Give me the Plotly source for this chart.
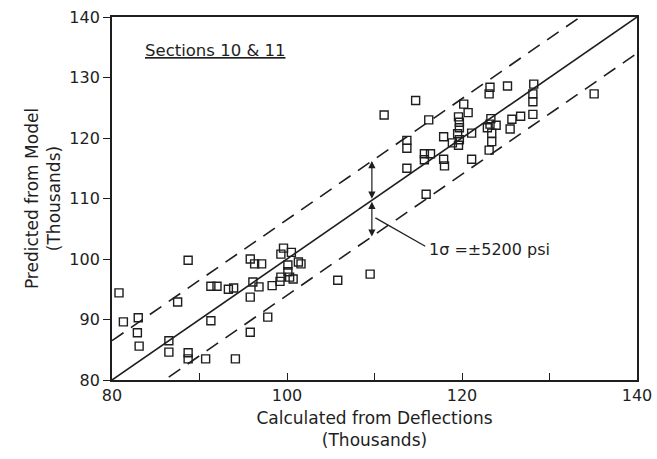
import plotly.graph_objects as go

# ---- data ----
calc_x = [80.8, 81.3, 83.0, 82.9, 83.1, 86.5, 86.5, 88.7, 87.5, 88.7, 88.7, 90.7,
          91.3, 92.0, 91.3, 93.3, 93.9, 94.1, 95.8, 96.3, 97.1, 96.1, 96.8, 98.3,
          95.8, 97.8, 95.8, 99.3, 99.6, 100.5, 100.1, 101.3, 101.6, 100.1, 100.3,
          100.7, 99.3, 99.2, 105.8, 109.5, 111.1, 114.7, 116.2, 113.7, 113.7,
          115.7, 116.4, 115.7, 113.7, 115.9, 117.9, 118.9, 119.6, 119.7, 119.7,
          119.5, 119.7, 119.6, 120.2, 120.7, 121.1, 121.1, 117.9, 118.0, 123.2,
          123.1, 125.2, 123.3, 122.9, 123.2, 123.9, 123.4, 123.4, 123.1, 125.7,
          126.7, 128.1, 125.5, 128.2, 128.1, 128.1, 135.1]
pred_y = [94.4, 89.6, 90.3, 87.8, 85.6, 86.5, 84.6, 99.8, 92.9, 84.5, 83.5, 83.5,
          95.5, 95.5, 89.8, 95.0, 95.2, 83.5, 100.0, 99.2, 99.2, 96.2, 95.4, 95.6,
          93.7, 90.4, 87.9, 100.8, 101.8, 101.1, 99.0, 99.5, 99.2, 97.9, 97.0,
          96.7, 97.0, 96.3, 96.5, 97.5, 123.8, 126.2, 123.0, 119.6, 118.3,
          117.4, 117.4, 116.4, 115.0, 110.7, 120.2, 119.2, 123.5, 122.6, 121.7,
          120.7, 119.7, 118.8, 125.6, 124.2, 120.8, 116.5, 116.5, 115.4, 128.4,
          127.3, 128.6, 123.2, 121.7, 122.3, 122.1, 120.8, 119.4, 118.0, 123.1,
          123.6, 123.9, 121.5, 128.9, 127.3, 126.0, 127.3]

line_x = [80, 140]          # equality line y = x
band_upper = 6.5            # offset of upper dashed line (as drawn)
band_lower = 6.0            # offset of lower dashed line (as drawn)
sigma_x = 109.7             # where the 1-sigma arrows are drawn
x_ticks = [80, 90, 100, 110, 120, 130, 140]
x_ticktext = ["80", "", "100", "", "120", "", "140"]
y_ticks = [80, 90, 100, 110, 120, 130, 140]
label_text = "1\u03c3 =\u00b15200 psi"
section_text = "Sections 10 & 11"

FONT = "DejaVu Sans, Liberation Sans, Arial, sans-serif"
INK = "#1e1e1e"

fig = go.Figure()

fig.add_trace(go.Scatter(x=line_x, y=line_x, mode="lines",
                         line=dict(color=INK, width=1.6), hoverinfo="skip"))
fig.add_trace(go.Scatter(x=line_x, y=[v + band_upper for v in line_x], mode="lines",
                         line=dict(color=INK, width=1.6, dash="14px,9px"), hoverinfo="skip"))
fig.add_trace(go.Scatter(x=line_x, y=[v - band_lower for v in line_x], mode="lines",
                         line=dict(color=INK, width=1.6, dash="14px,9px"), hoverinfo="skip"))

fig.add_trace(go.Scatter(x=calc_x, y=pred_y, mode="markers",
                         marker=dict(symbol="square-open", size=8, color=INK,
                                     line=dict(width=1.4, color=INK))))

fig.add_annotation(x=sigma_x, y=sigma_x + band_upper, ax=sigma_x, ay=sigma_x,
                   xref="x", yref="y", axref="x", ayref="y", text="",
                   showarrow=True, arrowhead=2, startarrowhead=2, arrowside="end+start",
                   arrowsize=1.2, startarrowsize=1.2, arrowwidth=1.2, arrowcolor=INK)
fig.add_annotation(x=sigma_x, y=sigma_x - band_lower, ax=sigma_x, ay=sigma_x,
                   xref="x", yref="y", axref="x", ayref="y", text="",
                   showarrow=True, arrowhead=2, startarrowhead=2, arrowside="end+start",
                   arrowsize=1.2, startarrowsize=1.2, arrowwidth=1.2, arrowcolor=INK)

fig.add_shape(type="line", x0=110.1, y0=106.8, x1=115.8, y1=102.1,
              xref="x", yref="y", line=dict(color=INK, width=1.2))
fig.add_annotation(x=116.0, y=101.5, xref="x", yref="y", text=label_text,
                   showarrow=False, xanchor="left", yanchor="middle",
                   font=dict(family=FONT, size=16, color=INK))

fig.add_annotation(x=83.5, y=134.5, xref="x", yref="y", text="<u>" + section_text + "</u>",
                   showarrow=False, xanchor="left", yanchor="middle",
                   font=dict(family=FONT, size=16.5, color=INK))

fig.update_layout(
    width=657, height=459,
    margin=dict(l=112, r=20, t=17, b=79),
    paper_bgcolor="white", plot_bgcolor="white",
    showlegend=False,
    font=dict(family=FONT, color=INK, size=16),
)
fig.update_xaxes(range=[80, 140], tickvals=x_ticks, ticktext=x_ticktext,
                 ticks="inside", ticklen=7, tickwidth=1.4, tickcolor=INK,
                 showline=True, linecolor=INK, linewidth=1.8, mirror=True,
                 showgrid=False, zeroline=False, automargin=False,
                 tickfont=dict(size=16, family=FONT, color=INK),
                 title=dict(text="Calculated from Deflections<br>(Thousands)",
                            font=dict(size=17, family=FONT, color=INK), standoff=8))
fig.update_yaxes(range=[80, 140], tickvals=y_ticks,
                 ticks="outside", ticklen=7, tickwidth=1.4, tickcolor=INK,
                 showline=True, linecolor=INK, linewidth=1.8, mirror=True,
                 showgrid=False, zeroline=False, automargin=False,
                 tickfont=dict(size=16, family=FONT, color=INK),
                 title=dict(text="Predicted from Model<br>(Thousands)",
                            font=dict(size=17, family=FONT, color=INK), standoff=4))

fig.write_html("out.html", config={"displayModeBar": False},
               post_script="document.body.style.margin='0';")
